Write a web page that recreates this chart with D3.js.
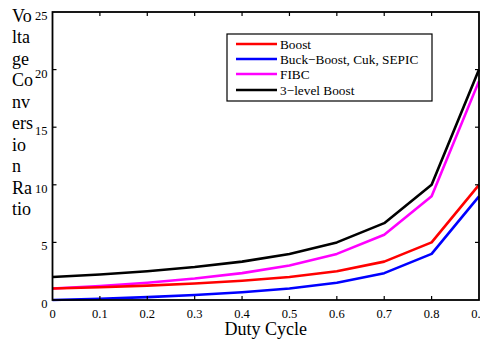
<!DOCTYPE html>
<html>
<head>
<meta charset="utf-8">
<script src="https://cdn.jsdelivr.net/npm/d3@7/dist/d3.min.js"></script>
<style>
  html, body { margin: 0; padding: 0; background: #fff; }
  svg { display: block; }
  text { font-family: "Liberation Serif", "Times New Roman", serif; fill: #000; }
</style>
</head>
<body>
<svg id="chart" width="480" height="343"></svg>
<script>
// ---- data ----
const duty = [0, 0.1, 0.2, 0.3, 0.4, 0.5, 0.6, 0.7, 0.8, 0.9];
const boost = [1, 1.11, 1.25, 1.43, 1.67, 2, 2.5, 3.33, 5, 10];
const buckBoost = [0, 0.11, 0.25, 0.43, 0.67, 1, 1.5, 2.33, 4, 9];
const fibc = [1, 1.22, 1.5, 1.86, 2.33, 3, 4, 5.67, 9, 19];
const threeLevel = [2, 2.22, 2.5, 2.86, 3.33, 4, 5, 6.67, 10, 20];
const seriesNames = ["Boost", "Buck\u2212Boost, Cuk, SEPIC", "FIBC", "3\u2212level Boost"];
const seriesColors = ["#ff0000", "#0000ff", "#ff00ff", "#000000"];
const xTicks = [0, 0.1, 0.2, 0.3, 0.4, 0.5, 0.6, 0.7, 0.8, 0.9];
const yTicks = [0, 5, 10, 15, 20, 25];
const xTitle = "Duty Cycle";
const yTitlePieces = ["Vo", "lta", "ge", "Co", "nv", "ers", "io", "n", "Ra", "tio"];

const seriesValues = [boost, buckBoost, fibc, threeLevel];

const svg = d3.select("#chart");
const L = 52.5, R = 479, T = 12, B = 300;
const x = d3.scaleLinear().domain([0, 0.9]).range([L, R]);
const y = d3.scaleLinear().domain([0, 25]).range([B, T]);

// data lines
const line = d3.line().x((d, i) => x(duty[i])).y(d => y(d));
const order = [3, 2, 0, 1];
order.forEach(k => {
  svg.append("path")
    .datum(seriesValues[k])
    .attr("d", line)
    .attr("fill", "none")
    .attr("stroke", seriesColors[k])
    .attr("stroke-width", 2.6)
    .attr("stroke-linejoin", "round");
});

// axes (ticks inward)
const tickLen = 4;
const innerX = xTicks.filter(v => v > 0 && v < 0.9);
const innerY = yTicks.filter(v => v > 0 && v < 25);
const axG = svg.append("g").attr("stroke", "#000").attr("stroke-width", 1.2);
innerX.forEach(v => {
  axG.append("line").attr("x1", x(v)).attr("x2", x(v)).attr("y1", B).attr("y2", B - tickLen);
  axG.append("line").attr("x1", x(v)).attr("x2", x(v)).attr("y1", T).attr("y2", T + tickLen);
});
innerY.forEach(v => {
  axG.append("line").attr("x1", L).attr("x2", L + tickLen).attr("y1", y(v)).attr("y2", y(v));
  axG.append("line").attr("x1", R).attr("x2", R - tickLen).attr("y1", y(v)).attr("y2", y(v));
});
svg.append("rect").attr("x", L).attr("y", T).attr("width", R - L).attr("height", B - T)
  .attr("fill", "none").attr("stroke", "#000").attr("stroke-width", 1.8);

// tick labels
svg.append("g").selectAll("text").data(xTicks).join("text")
  .attr("x", d => x(d)).attr("y", 317.5)
  .attr("text-anchor", "middle").attr("font-size", 12.5)
  .text(d => d === 0 ? "0" : d3.format(".1f")(d));
svg.append("g").selectAll("text").data(yTicks).join("text")
  .attr("x", 47.5).attr("y", d => y(d) + 8)
  .attr("text-anchor", "end").attr("font-size", 12.5)
  .text(d => d);

// axis titles
svg.append("text").attr("x", (L + R) / 2).attr("y", 335).attr("text-anchor", "middle")
  .attr("font-size", 18).text(xTitle);
const yt = svg.append("text").attr("font-size", 18);
yTitlePieces.forEach((p, i) => {
  yt.append("tspan").attr("x", 12).attr("y", 21.5 + i * 21.5).text(p);
});

// legend
const lg = svg.append("g");
lg.append("rect").attr("x", 227).attr("y", 34).attr("width", 205).attr("height", 67)
  .attr("fill", "#fff").attr("stroke", "#000").attr("stroke-width", 1.2);
const rowsY = [44, 59, 74, 90];
seriesNames.forEach((n, i) => {
  lg.append("line").attr("x1", 236).attr("x2", 277).attr("y1", rowsY[i]).attr("y2", rowsY[i])
    .attr("stroke", seriesColors[i]).attr("stroke-width", 2.6);
  lg.append("text").attr("x", 280).attr("y", rowsY[i] + 4.5).attr("font-size", 13.3).text(n);
});
</script>
</body>
</html>
